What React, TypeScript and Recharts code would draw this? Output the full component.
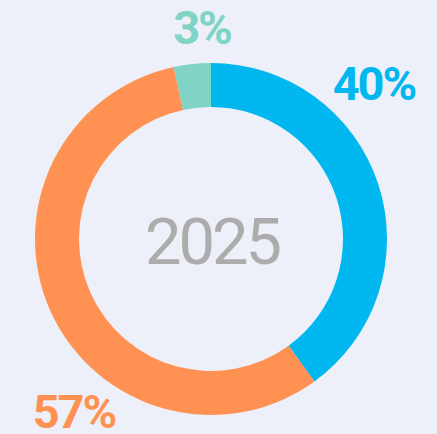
import { PieChart, Pie, Cell } from "recharts";

const segments = ["A", "B", "C"];
const shares = [40, 56.6, 3.4];
const shareLabels = ["40%", "57%", "3%"];
const colors = ["#00b7ef", "#ff9252", "#80d4c5"];
const centerText = "2025";

// label placement relative to the pie centre (not data)
const labelOffsets = [
  { dx: 163, dy: -139 },
  { dx: -137, dy: 189 },
  { dx: -9, dy: -195 },
];

const data = segments.map((name, i) => ({ name, value: shares[i] }));

function renderLabel(props: any) {
  const { cx, cy, index } = props;
  const o = labelOffsets[index];
  return (
    <g>
      <text
        x={cx + o.dx}
        y={cy + o.dy}
        textAnchor="middle"
        fill={colors[index]}
        style={{ fontFamily: "Roboto", fontWeight: 700, fontSize: 47, letterSpacing: -2 }}
      >
        {shareLabels[index]}
      </text>
      {index === 0 && (
        <text
          x={cx + 1}
          y={cy + 25}
          textAnchor="middle"
          fill="#acacac"
          style={{ fontFamily: "Roboto", fontWeight: 400, fontSize: 65, letterSpacing: -3 }}
        >
          {centerText}
        </text>
      )}
    </g>
  );
}

export default function App() {
  return (
    <div style={{ position: "absolute", left: 0, top: 0, width: 437, height: 434, background: "#edf0f8" }}>
      <PieChart width={437} height={434} margin={{ top: 0, right: 0, bottom: 0, left: 0 }}>
        <Pie
          data={data}
          dataKey="value"
          cx={211}
          cy={239}
          innerRadius={132}
          outerRadius={176}
          startAngle={90}
          endAngle={-270}
          stroke="none"
          label={renderLabel}
          labelLine={false}
          isAnimationActive={false}
        >
          {data.map((d, i) => (
            <Cell key={d.name} fill={colors[i]} />
          ))}
        </Pie>
      </PieChart>
    </div>
  );
}
